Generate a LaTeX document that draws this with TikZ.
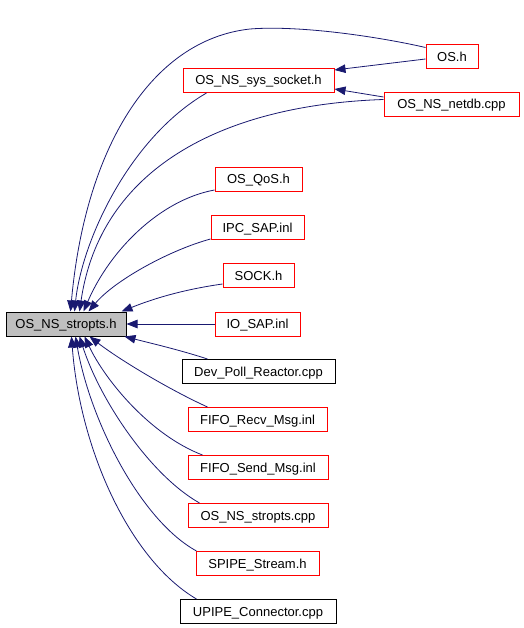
\documentclass[tikz,border=0pt]{standalone}
\usepackage{fontspec}
\setmainfont{Liberation Sans}
\usetikzlibrary{arrows.meta,calc}
\definecolor{edgeblue}{RGB}{25,25,112}
\definecolor{boxgray}{RGB}{191,191,191}
\begin{document}
\begin{tikzpicture}[x=1pt,y=-1pt,
  box/.style={draw=red,line width=1pt,minimum height=24pt,inner sep=0pt,text height=11.6pt,text depth=2.6pt,font=\fontsize{13}{15}\selectfont,fill=white},
  bbox/.style={box,draw=black},
  mainbox/.style={box,draw=black,fill=boxgray},
  edge/.style={draw=edgeblue,line width=0.8pt,-{Triangle[length=11pt,width=8.5pt]}}]
\useasboundingbox (0,0) rectangle (523,628);
\node[mainbox,minimum width=120pt] (stropts) at (66,324) {OS\_NS\_stropts.h};
\node[box,minimum width=52pt] (OSh) at (452,57) {OS.h};
\node[box,minimum width=151pt] (syssock) at (258.5,80.5) {OS\_NS\_sys\_socket.h};
\node[box,minimum width=135pt] (netdb) at (451.5,104.5) {OS\_NS\_netdb.cpp};
\node[box,minimum width=87pt] (QoS) at (258.5,179.5) {OS\_QoS.h};
\node[box,minimum width=93pt] (IPC) at (257.5,227.5) {IPC\_SAP.inl};
\node[box,minimum width=71pt] (SOCK) at (258.5,275.5) {SOCK.h};
\node[box,minimum width=85pt] (IO) at (257.5,324) {IO\_SAP.inl};
\node[bbox,minimum width=153pt] (DevPoll) at (258.5,371.5) {Dev\_Poll\_Reactor.cpp};
\node[box,minimum width=139pt] (FIFORecv) at (257.5,419.5) {FIFO\_Recv\_Msg.inl};
\node[box,minimum width=140pt] (FIFOSend) at (258,467.5) {FIFO\_Send\_Msg.inl};
\node[box,minimum width=140pt] (stroptscpp) at (258,515.5) {OS\_NS\_stropts.cpp};
\node[box,minimum width=123pt] (SPIPE) at (257.5,563.5) {SPIPE\_Stream.h};
\node[bbox,minimum width=156pt] (UPIPE) at (258,611.5) {UPIPE\_Connector.cpp};
% edges into OS_NS_stropts.h (top)
\draw[edge] ($(OSh.north west)+(0,3)$) .. controls (380,37) and (300,25) .. (250,29) .. controls (150,40) and (85,150) .. ($(stropts.north west)+(65,0)$);
\draw[edge] ($(syssock.south west)+(24,0)$) .. controls (129,138) and (82,241) .. ($(stropts.north west)+(69,0)$);
\draw[edge] ($(netdb.west)+(0,-5)$) .. controls (220,105) and (100,170) .. ($(stropts.north west)+(74,0)$);
\draw[edge] ($(QoS.south west)+(0,-2)$) .. controls (160,200) and (110,250) .. ($(stropts.north west)+(78,0)$);
\draw[edge] ($(IPC.south west)+(0,-1)$) .. controls (170,250) and (115,280) .. ($(stropts.north west)+(83,0)$);
\draw[edge] ($(SOCK.south west)+(0,-4)$) .. controls (180,290) and (150,300) .. ($(stropts.north west)+(116,0)$);
\draw[edge] (IO.west) -- (stropts.east);
% edges into OS_NS_stropts.h (bottom)
\draw[edge] ($(DevPoll.north west)+(26,0)$) .. controls (180,350) and (150,343) .. ($(stropts.south east)+(-2,0)$);
\draw[edge] ($(FIFORecv.north west)+(20,0)$) .. controls (170,390) and (120,360) .. ($(stropts.south west)+(84,0)$);
\draw[edge] ($(FIFOSend.north west)+(15,0)$) .. controls (150,435) and (105,380) .. ($(stropts.south west)+(79,0)$);
\draw[edge] ($(stroptscpp.north west)+(12,0)$) .. controls (150,475) and (100,400) .. ($(stropts.south west)+(74,0)$);
\draw[edge] ($(SPIPE.north west)+(1,0)$) .. controls (140,520) and (90,420) .. ($(stropts.south west)+(70,0)$);
\draw[edge] ($(UPIPE.north west)+(17,0)$) .. controls (130,560) and (80,450) .. ($(stropts.south west)+(66,0)$);
% edges into OS_NS_sys_socket.h
\draw[edge] ($(OSh.west)+(0,2)$) -- ($(syssock.north east)+(0,2)$);
\draw[edge] ($(netdb.north west)+(0,5)$) -- ($(syssock.south east)+(0,-4)$);
\end{tikzpicture}
\end{document}
